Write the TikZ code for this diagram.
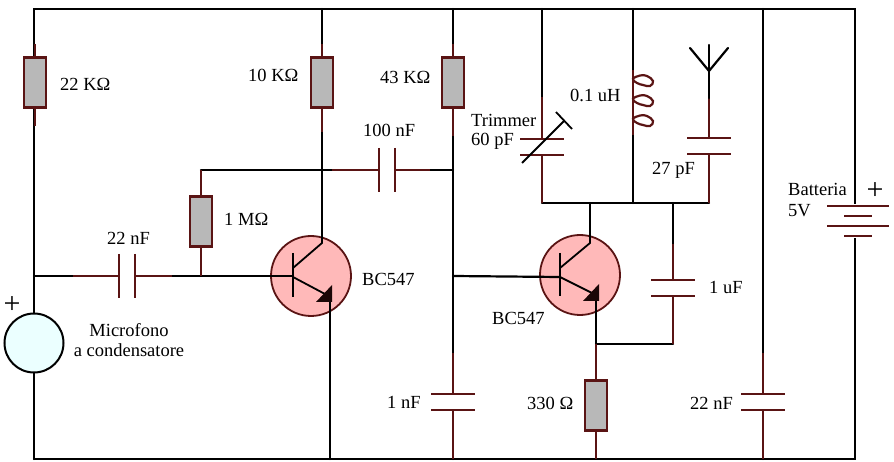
\documentclass[tikz,border=0pt]{standalone}
\usepackage{fontspec}
\setmainfont{Liberation Serif}
\definecolor{wirered}{HTML}{5A1414}
\definecolor{resgrey}{HTML}{B8B8B8}
\definecolor{qpink}{HTML}{FFB9B9}
\definecolor{micfill}{HTML}{EBFFFF}
\newcommand{\hcap}[1]{% horizontal plates on a vertical wire
  \draw[plate] ([shift={(-22,-8)}]#1) -- ([shift={(22,-8)}]#1);
  \draw[plate] ([shift={(-22,8)}]#1) -- ([shift={(22,8)}]#1);}
\newcommand{\vcap}[1]{% vertical plates on a horizontal wire
  \draw[plate] ([shift={(-8,-22)}]#1) -- ([shift={(-8,22)}]#1);
  \draw[plate] ([shift={(8,-22)}]#1) -- ([shift={(8,22)}]#1);}
\newcommand{\leaf}[1]{%
  \draw[draw=wirered,line width=2.2pt] plot[smooth cycle,tension=0.7] coordinates {(633,{#1+4}) (640,{#1+0.5}) (647,{#1+1}) (653,{#1+6}) (650,{#1+11}) (643,{#1+10}) (637,{#1+8})};}
\begin{document}
\begin{tikzpicture}[x=1pt,y=-1pt,
  wire/.style={draw=black,line width=2.2pt,line cap=round,line join=miter},
  lead/.style={draw=wirered,line width=2.4pt},
  plate/.style={draw=wirered,line width=2.4pt},
  thin wire/.style={draw=black,line width=1.8pt},
  resistor/.style={draw=wirered,fill=resgrey,line width=2.4pt,rectangle,minimum width=22pt,minimum height=50pt,inner sep=0pt},
  transistor/.style={draw=wirered,fill=qpink,line width=1.8pt,circle,minimum size=80pt,inner sep=0pt},
  mic/.style={draw=black,fill=micfill,line width=2pt,circle,minimum size=59pt,inner sep=0pt},
  lbl/.style={inner sep=0pt,font=\fontsize{18.5}{21}\selectfont,align=left},
  pole/.style={inner sep=0pt,font=\fontsize{30}{30}\selectfont}]
\useasboundingbox (0,0) rectangle (894,462);
\fill[white] (0,0) rectangle (894,462);
% corners and junctions
\coordinate (tl) at (34,9); \coordinate (tr) at (855,9);
\coordinate (bl) at (34,459); \coordinate (br) at (855,459);
\coordinate (t10) at (322,9); \coordinate (t43) at (453,9);
\coordinate (ttr) at (542,9); \coordinate (tind) at (633,9); \coordinate (t22) at (763,9);
\coordinate (b1) at (330,459); \coordinate (b2) at (453,459); \coordinate (b3) at (596,459); \coordinate (b4) at (763,459);
\coordinate (jin) at (34,276); \coordinate (j1m) at (201,276);
\coordinate (jfbL) at (201,170); \coordinate (jfb) at (322,170); \coordinate (jfbR) at (453,170);
\coordinate (jb2) at (453,276);
\coordinate (ctr) at (542,203); \coordinate (cq) at (590,203); \coordinate (cind) at (633,203);
\coordinate (c1u) at (673,203); \coordinate (cant) at (709,203);
\coordinate (je) at (596,344); \coordinate (je1u) at (673,344);
% capacitor centres
\coordinate (c22n) at (127,276); \coordinate (c100) at (387,170);
\coordinate (c1n) at (453,402); \coordinate (c22b) at (763,402);
\coordinate (c60) at (542,147); \coordinate (c27) at (709,146); \coordinate (c1uf) at (673,288);
% components
\node[mic] (mc) at (34,343) {};
\node[transistor] (q1) at (311,276) {};
\node[transistor] (q2) at (580,275) {};
% black wires
\draw[wire] (bl) -- (mc.south);
\draw[wire] (mc.north) -- (tl) -- (tr) -- (br) -- (bl);
\draw[wire] (t10) -- (322,243);
\draw[wire] (t43) -- (b2);
\draw[wire] (ttr) -- (542,97);
\draw[wire] (tind) -- (633,70);
\draw[wire] (633,135) -- (cind);
\draw[wire] (t22) -- (b4);
\draw[wire] (ctr) -- (cant);
\draw[wire] (cq) -- (590,243);
\draw[wire] (c1u) -- (673,244);
\draw[wire] (jin) -- (73,276);
\draw[wire] (172,276) -- (293,276);
\draw[wire] (jb2) -- (560,277);
\draw[wire] (jfbL) -- (jfbR);
\draw[wire] (330,300) -- (b1);
\draw[wire] (596,300) -- (je);
\draw[wire] (je) -- (je1u);
% red leads
\draw[lead] (35,44) -- (35,126);
\draw[lead] (322,44) -- (322,132);
\draw[lead] (453,44) -- (453,136);
\draw[lead] (73,276) -- (c22n) -- (172,276);
\draw[lead] (332,170) -- (c100) -- (430,170);
\draw[lead] (jfbL) -- (j1m);
\draw[lead] (542,97) -- (ctr);
\draw[lead] (709,98) -- (cant);
\draw[lead] (673,244) -- (je1u);
\draw[lead] (633,70) -- (633,135);
\draw[lead] (453,353) -- (b2);
\draw[lead] (763,353) -- (b4);
\draw[lead] (je) -- (b3);
% white gaps in capacitors
\fill[white] (c22n) ++(-7,-3) rectangle ++(14,6);
\fill[white] (c100) ++(-7,-3) rectangle ++(14,6);
\fill[white] (c60) ++(-3,-7) rectangle ++(6,14);
\fill[white] (c27) ++(-3,-7) rectangle ++(6,14);
\fill[white] (c1uf) ++(-3,-7) rectangle ++(6,14);
\fill[white] (c1n) ++(-3,-7) rectangle ++(6,14);
\fill[white] (c22b) ++(-3,-7) rectangle ++(6,14);
\vcap{c22n}\vcap{c100}\hcap{c60}\hcap{c27}\hcap{c1uf}\hcap{c1n}\hcap{c22b}
% resistors
\node[resistor] (r22) at (35,82.5) {};
\node[resistor] (r10) at (322,82.5) {};
\node[resistor] (r43) at (453,82.5) {};
\node[resistor] (r1m) at (201,221.5) {};
\node[resistor] (r330) at (596,405.5) {};
% transistor internals
\draw[thin wire] (293,253) -- (293,297);
\draw[thin wire] (293,268) -- (322,243);
\draw[thin wire] (293,277) -- (325,294);
\fill[black!70!wirered] (332,285) -- (332,302) -- (316,302) -- cycle;
\draw[thin wire] (560,253) -- (560,296);
\draw[thin wire] (560,268) -- (590,243);
\draw[thin wire] (560,277) -- (592,293);
\fill[black!70!wirered] (599,284) -- (599,301) -- (583,301) -- cycle;
% trimmer arrow
\draw[thin wire] (522,163) -- (564,121);
\draw[thin wire] (556,112) -- (572,129);
% inductor loops
\leaf{75}\leaf{95}\leaf{115}
% antenna
\coordinate (antc) at (709,71);
\draw[wire] (709,45) -- (709,98);
\draw[wire] (690,48) -- (antc) -- (728,48);
% battery
\fill[white] (850,204.5) rectangle (860,237.9);
\draw[plate] (827,206) -- (889,206);
\draw[plate] (844,216) -- (872,216);
\draw[plate] (827,226) -- (889,226);
\draw[plate] (844,236) -- (872,236);
% labels
\node[lbl,anchor=west] at (60,84) {22 KΩ};
\node[lbl,anchor=west] at (248,75) {10 KΩ};
\node[lbl,anchor=west] at (380,77) {43 KΩ};
\node[lbl,anchor=west] at (224,219) {1 MΩ};
\node[lbl,anchor=west] at (363,130) {100 nF};
\node[lbl,anchor=west] at (107,238) {22 nF};
\node[lbl,anchor=west] at (362,279) {BC547};
\node[lbl,anchor=west] at (492,318) {BC547};
\node[lbl,anchor=west] at (387,402) {1 nF};
\node[lbl,anchor=west] at (527,403) {330 Ω};
\node[lbl,anchor=west] at (690,403) {22 nF};
\node[lbl,anchor=west] at (709,287) {1 uF};
\node[lbl,anchor=west] at (570,95) {0.1 uH};
\node[lbl,anchor=west] at (652,170) {27 pF};
\node[lbl,anchor=west] at (471,120) {Trimmer};
\node[lbl,anchor=west] at (471,141) {60 pF};
\node[lbl,anchor=west] at (788,189) {Batteria};
\node[lbl,anchor=west] at (788,211) {5V};
\node[lbl,align=center,anchor=center] at (129,340.5) {Microfono\\[-1pt]a condensatore};
\node[pole] at (875,191) {+};
\node[pole] at (12,305) {+};
\end{tikzpicture}
\end{document}
